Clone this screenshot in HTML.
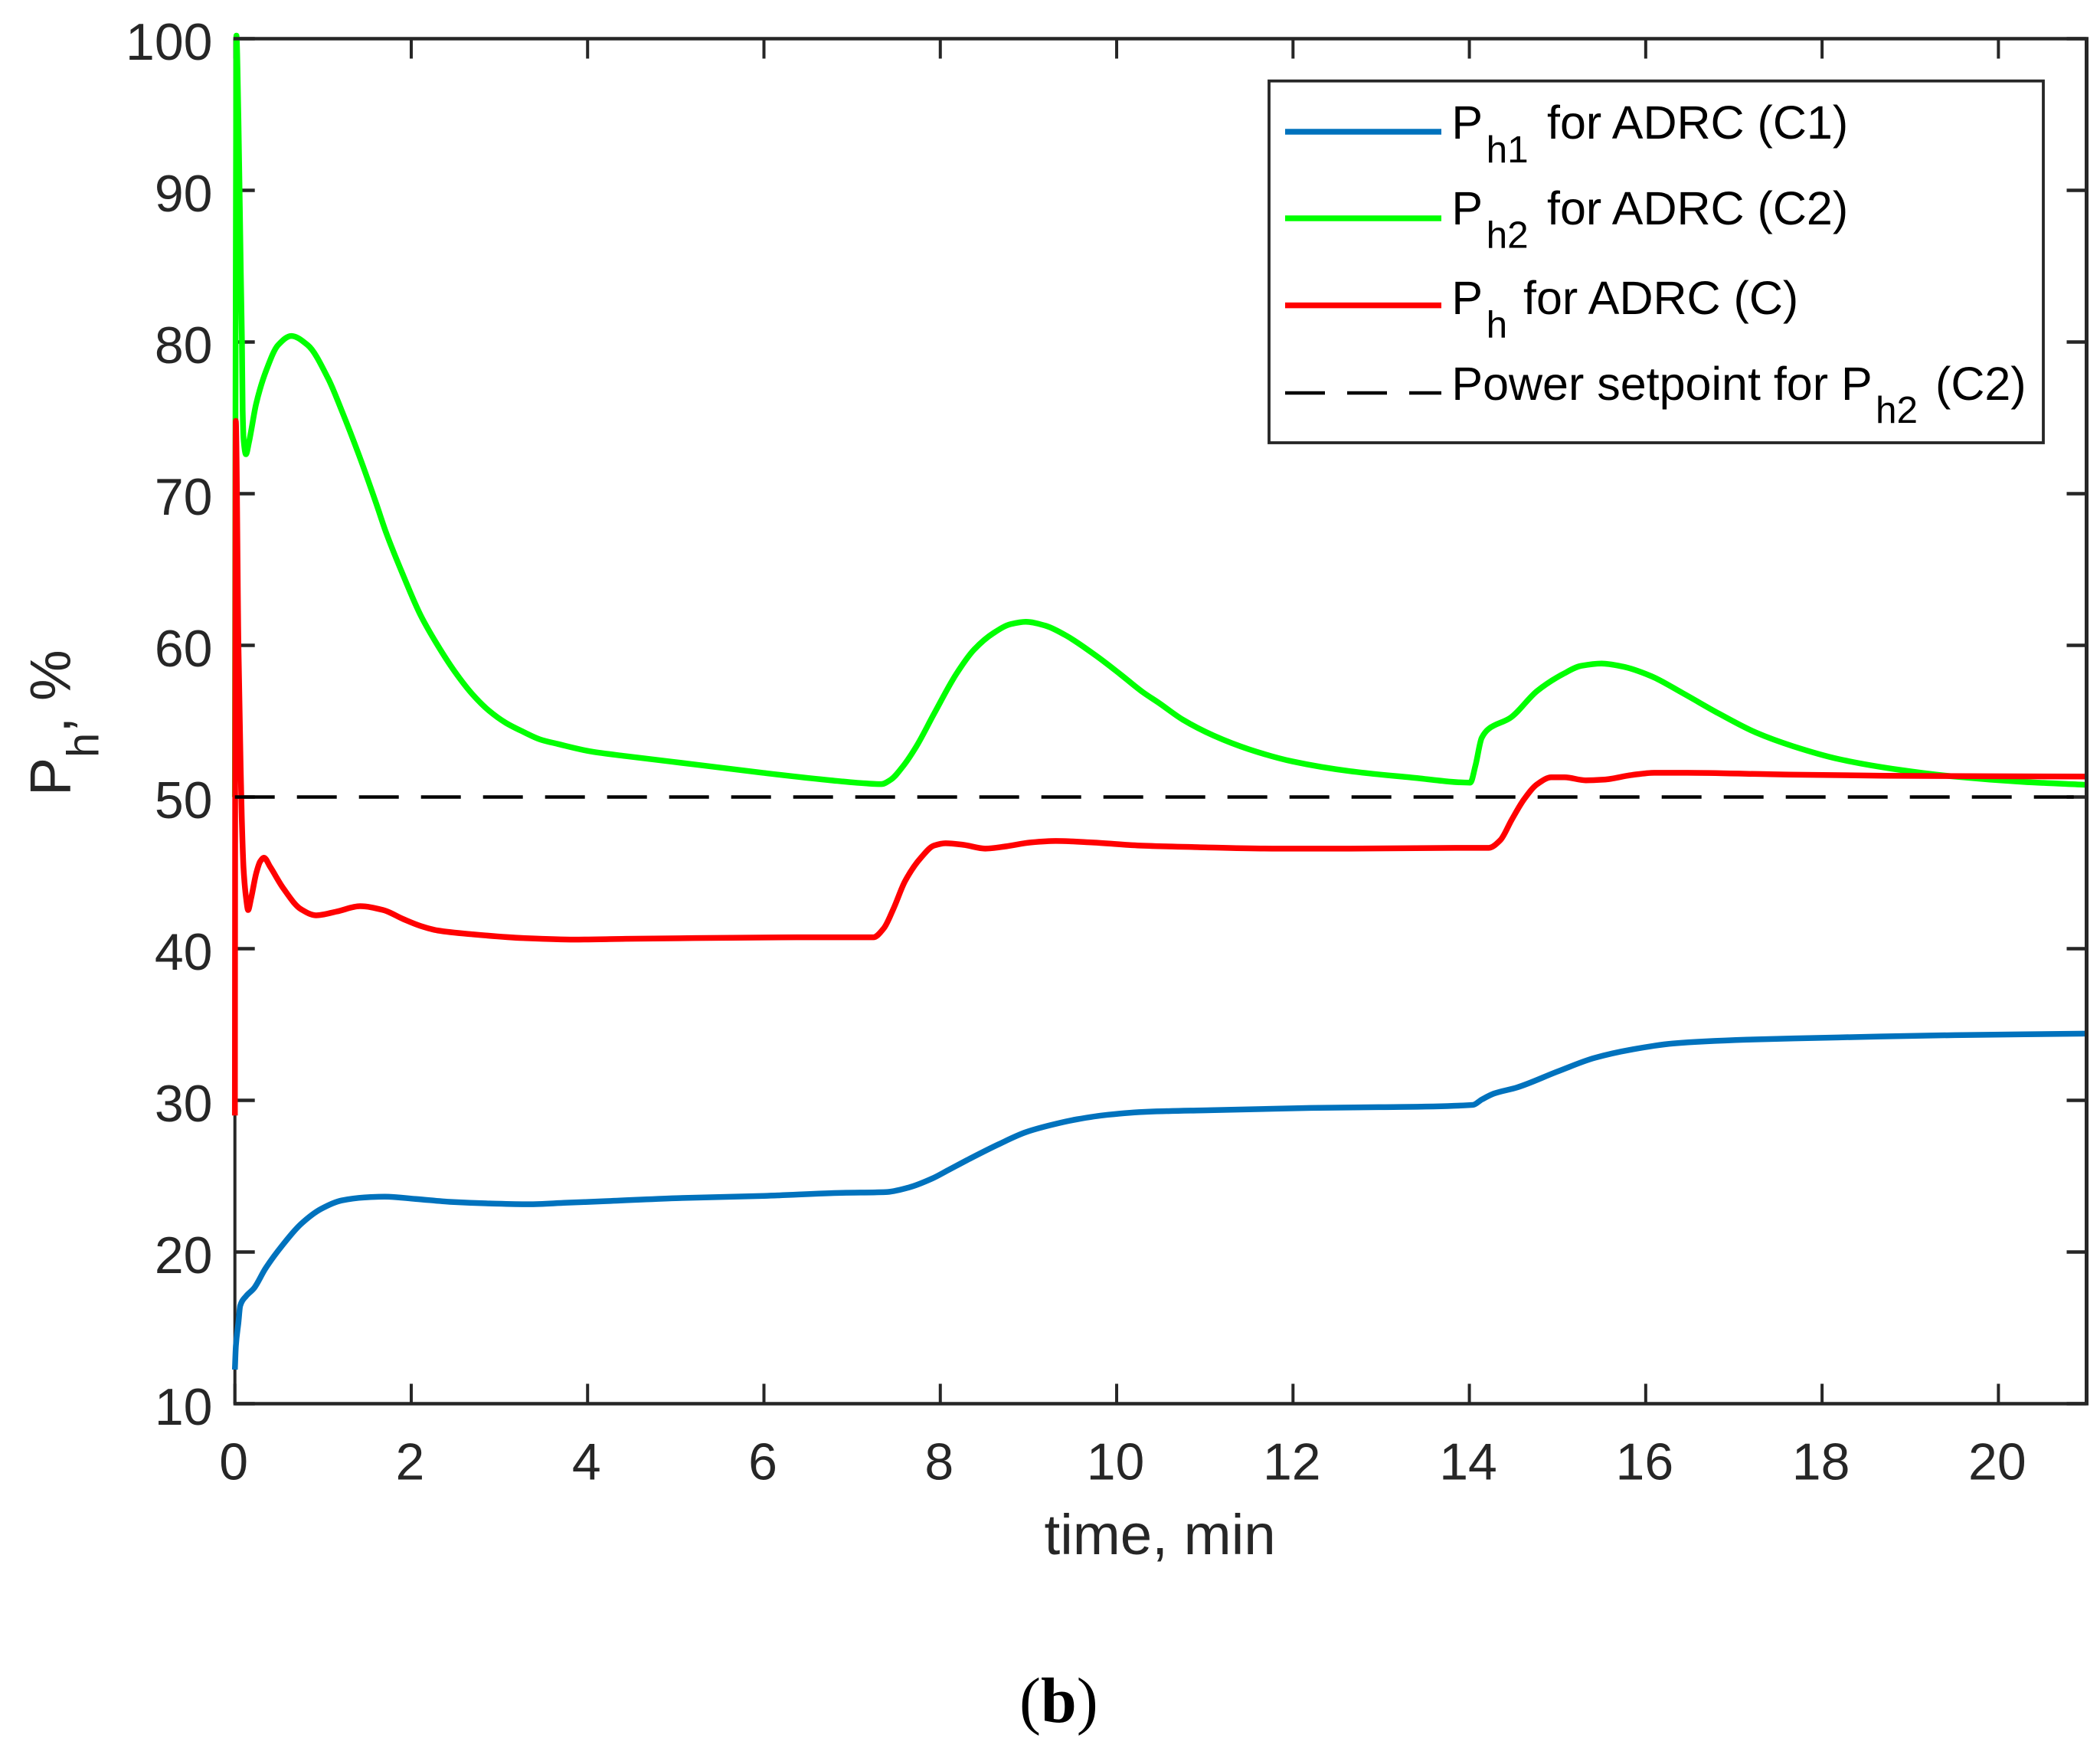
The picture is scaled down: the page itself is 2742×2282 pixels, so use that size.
<!DOCTYPE html>
<html lang="en">
<head>
<meta charset="utf-8">
<title>Ph time response chart</title>
<style>
html,body{margin:0;padding:0;background:#fff;}
svg{display:block;}
text{font-family:"Liberation Sans",Arial,sans-serif;}
</style>
</head>
<body>
<svg id="chart" xmlns="http://www.w3.org/2000/svg" width="2742" height="2282" viewBox="0 0 2742 2282">
  <rect x="0" y="0" width="2742" height="2282" fill="#ffffff"/>
  <g id="ticks"></g>
  <g id="series"></g>
  <g id="frame"></g>
  <g id="labels" fill="#262626" font-size="68"></g>

  <text x="1363.5" y="2029" font-size="74.5" fill="#262626">time, min</text>
  <text transform="translate(91.7,1039) rotate(-90)" font-size="75" fill="#262626">P<tspan font-size="58" dy="36.6">h</tspan><tspan dy="-36.6">, %</tspan></text>

  <g>
    <rect x="1657" y="105.7" width="1011" height="472.3" fill="#ffffff" stroke="#262626" stroke-width="3.8"/>
    <g fill="#000000">
      <line x1="1678" x2="1882" y1="172" y2="172" stroke="#0072BD" stroke-width="7.5"/>
      <text x="1895.4" y="181" font-size="61">P</text>
      <text x="1940.6" y="212" font-size="49.5">h1</text>
      <text x="2020" y="181" font-size="61">for ADRC (C1)</text>
    </g>
    <g fill="#000000">
      <line x1="1678" x2="1882" y1="285" y2="285" stroke="#00FF00" stroke-width="7.5"/>
      <text x="1895.4" y="293" font-size="61">P</text>
      <text x="1940.6" y="323.6" font-size="49.5">h2</text>
      <text x="2020" y="293" font-size="61">for ADRC (C2)</text>
    </g>
    <g fill="#000000">
      <line x1="1678" x2="1882" y1="398.6" y2="398.6" stroke="#FF0000" stroke-width="7.5"/>
      <text x="1895.4" y="410" font-size="61">P</text>
      <text x="1940.6" y="440.7" font-size="49.5">h</text>
      <text x="1989" y="410" font-size="61">for ADRC (C)</text>
    </g>
    <g fill="#000000">
      <line x1="1678" x2="1882" y1="513" y2="513" stroke="#000000" stroke-width="4.5" stroke-dasharray="52 29"/>
      <text x="1895.4" y="521.8" font-size="61">Power setpoint for P</text>
      <text x="2449" y="552" font-size="49.5">h2</text>
      <text x="2527" y="521.8" font-size="61">(C2)</text>
    </g>
  </g>

  <text x="1331" y="2248" font-size="84" fill="#000000" style="font-family:'Liberation Serif',serif">(<tspan font-weight="bold">b</tspan>)</text>
</svg>
<script>
const xTickValues = [0, 2, 4, 6, 8, 10, 12, 14, 16, 18, 20];
const yTickValues = [10, 20, 30, 40, 50, 60, 70, 80, 90, 100];

const timeC1 = [0, 0.011, 0.04, 0.06, 0.128, 0.215, 0.345, 0.533, 0.75, 0.98, 1.21, 1.47, 1.7, 2.05, 2.46, 2.89, 3.33, 3.76, 4.2, 5, 6, 6.89, 7.38, 7.64, 7.91, 8.09, 8.35, 8.66, 8.97, 9.24, 9.55, 9.9, 10.35, 11.06, 12.2, 12.97, 14.04, 14.14, 14.28, 14.54, 15, 15.42, 15.84, 16.31, 17.15, 18.19, 19.5, 21];
const powerC1 = [12.25, 13.8, 15.35, 16.45, 17.1, 17.6, 18.9, 20.4, 21.85, 22.85, 23.4, 23.6, 23.65, 23.5, 23.3, 23.2, 23.15, 23.25, 23.35, 23.55, 23.7, 23.9, 23.95, 24.25, 24.85, 25.4, 26.2, 27.1, 27.9, 28.35, 28.75, 29.05, 29.25, 29.35, 29.5, 29.55, 29.7, 30.05, 30.45, 30.85, 31.9, 32.8, 33.35, 33.75, 34, 34.15, 34.3, 34.4];

const timeC2 = [0, 0.005, 0.012, 0.017, 0.04, 0.067, 0.08, 0.088, 0.1, 0.125, 0.16, 0.183, 0.24, 0.36, 0.49, 0.64, 0.825, 1.057, 1.21, 1.41, 1.6, 1.717, 1.91, 2.105, 2.3, 2.49, 2.69, 2.88, 3.07, 3.27, 3.46, 3.66, 4.04, 4.43, 5.21, 5.98, 6.76, 7.15, 7.33, 7.44, 7.58, 7.73, 7.93, 8.18, 8.38, 8.6, 8.8, 8.97, 9.19, 9.41, 9.77, 10.04, 10.3, 10.48, 10.75, 11.1, 11.5, 11.99, 12.65, 13.32, 14.01, 14.07, 14.14, 14.22, 14.46, 14.77, 15.06, 15.27, 15.5, 15.74, 16.05, 16.42, 16.83, 17.25, 17.67, 18.19, 18.87, 19.5, 20.28, 21];
const powerC2 = [50, 70, 90, 100.2, 94.7, 84.6, 80, 75.5, 73.5, 72.6, 73.4, 74.1, 75.9, 78.2, 79.8, 80.4, 79.8, 77.6, 75.5, 72.5, 69.4, 67.4, 64.6, 62, 60, 58.3, 56.8, 55.7, 54.9, 54.3, 53.8, 53.5, 53, 52.7, 52.15, 51.6, 51.1, 50.9, 50.85, 51.15, 52.05, 53.35, 55.5, 58.1, 59.7, 60.8, 61.4, 61.55, 61.3, 60.7, 59.3, 58.1, 56.9, 56.2, 55.1, 54.05, 53.15, 52.35, 51.7, 51.3, 50.95, 52.1, 53.9, 54.5, 55.2, 57, 58.1, 58.65, 58.8, 58.6, 58, 56.85, 55.5, 54.25, 53.35, 52.5, 51.8, 51.35, 51, 50.8];

const timeC = [0, 0.003, 0.01, 0.04, 0.065, 0.078, 0.098, 0.128, 0.15, 0.183, 0.243, 0.287, 0.33, 0.4, 0.547, 0.75, 0.92, 1.155, 1.42, 1.68, 1.91, 2.105, 2.3, 2.69, 3.27, 3.85, 4.43, 5.21, 6.37, 7.24, 7.36, 7.47, 7.6, 7.78, 7.93, 8.06, 8.26, 8.51, 8.75, 9.02, 9.31, 9.73, 10.26, 10.88, 11.76, 12.65, 13.84, 14.22, 14.35, 14.48, 14.62, 14.77, 14.93, 15.08, 15.32, 15.53, 15.84, 16.1, 16.47, 17.41, 18.71, 21];
const powerC = [29, 50, 74.8, 60, 52, 48.65, 45.3, 43.3, 42.55, 43.3, 45, 45.75, 46, 45.4, 44, 42.6, 42.2, 42.45, 42.8, 42.55, 41.95, 41.5, 41.2, 40.95, 40.7, 40.6, 40.65, 40.7, 40.75, 40.75, 41.35, 42.65, 44.45, 46, 46.8, 46.95, 46.85, 46.6, 46.75, 47, 47.1, 47, 46.8, 46.7, 46.6, 46.6, 46.65, 46.65, 47.15, 48.5, 49.85, 50.85, 51.3, 51.3, 51.1, 51.15, 51.45, 51.6, 51.6, 51.5, 51.4, 51.35];

const setpointTime = [0, 21];
const setpointPower = [50, 50];

const SVG_NS = 'http://www.w3.org/2000/svg';
const plotLeft = 306.7, plotRight = 2724.5, plotTop = 50.5, plotBottom = 1832.5;
const xMin = 0, xMax = 21, yMin = 10, yMax = 100;
function xScale(t) { return plotLeft + (t - xMin) * (plotRight - plotLeft) / (xMax - xMin); }
function yScale(v) { return plotBottom - (v - yMin) * (plotBottom - plotTop) / (yMax - yMin); }

function makeLine(parent, x1, y1, x2, y2, width) {
  const el = document.createElementNS(SVG_NS, 'line');
  el.setAttribute('x1', x1);
  el.setAttribute('y1', y1);
  el.setAttribute('x2', x2);
  el.setAttribute('y2', y2);
  el.setAttribute('stroke', '#262626');
  el.setAttribute('stroke-width', width);
  parent.appendChild(el);
  return el;
}

const ticksGroup = document.getElementById('ticks');
const labelsGroup = document.getElementById('labels');
const frameGroup = document.getElementById('frame');
const seriesGroup = document.getElementById('series');

xTickValues.forEach(function (t) {
  const x = xScale(t);
  const bottomTick = makeLine(ticksGroup, x, plotBottom, x, plotBottom - 26, 4);
  
  
  const topTick = makeLine(ticksGroup, x, plotTop, x, plotTop + 26, 4);
  
  
  const label = document.createElementNS(SVG_NS, 'text');
  
  
  label.setAttribute('x', x - 1.5);
  label.setAttribute('y', 1931.5);
  label.setAttribute('text-anchor', 'middle');
  label.textContent = String(t);
  labelsGroup.appendChild(label);
});

yTickValues.forEach(function (v) {
  const y = yScale(v);
  const leftTick = makeLine(ticksGroup, plotLeft, y, plotLeft + 26, y, 4.5);
  
  
  const rightTick = makeLine(ticksGroup, plotRight, y, plotRight - 26, y, 4.5);
  
  
  const label = document.createElementNS(SVG_NS, 'text');
  
  
  label.setAttribute('x', 277.5);
  label.setAttribute('y', y + 27.5);
  label.setAttribute('text-anchor', 'end');
  label.textContent = String(v);
  labelsGroup.appendChild(label);
});

const frameTop = makeLine(frameGroup, plotLeft - 2, plotTop, plotRight + 2.5, plotTop, 4.5);


const frameBottom = makeLine(frameGroup, plotLeft - 2, plotBottom, plotRight + 2.5, plotBottom, 4.5);


const frameRight = makeLine(frameGroup, plotRight, plotTop, plotRight, plotBottom, 5);


const frameLeft = makeLine(ticksGroup, plotLeft, plotTop, plotLeft, plotBottom, 4);



/* Monotone cubic path through the data points, so curves stay smooth without overshoot. */
function smoothPath(px, py) {
  const n = px.length;
  const slope = [];
  for (let i = 0; i < n - 1; i++) {
    slope.push((py[i + 1] - py[i]) / Math.max(px[i + 1] - px[i], 0.001));
  }
  const tangent = [slope[0]];
  for (let i = 1; i < n - 1; i++) {
    if (slope[i - 1] * slope[i] <= 0) {
      tangent.push(0);
    } else {
      const h0 = px[i] - px[i - 1], h1 = px[i + 1] - px[i];
      const w0 = 2 * h1 + h0, w1 = h1 + 2 * h0;
      tangent.push((w0 + w1) / (w0 / slope[i - 1] + w1 / slope[i]));
    }
  }
  tangent.push(slope[n - 2]);
  let d = 'M' + px[0].toFixed(1) + ' ' + py[0].toFixed(1);
  for (let i = 0; i < n - 1; i++) {
    const h = (px[i + 1] - px[i]) / 3;
    d += 'C' + (px[i] + h).toFixed(2) + ' ' + (py[i] + tangent[i] * h).toFixed(2) +
         ' ' + (px[i + 1] - h).toFixed(2) + ' ' + (py[i + 1] - tangent[i + 1] * h).toFixed(2) +
         ' ' + px[i + 1].toFixed(2) + ' ' + py[i + 1].toFixed(2);
  }
  return d;
}

function makeSeries(times, values, color, width, dash) {
  const el = document.createElementNS(SVG_NS, 'path');
  el.setAttribute('d', smoothPath(times.map(xScale), values.map(yScale)));
  el.setAttribute('fill', 'none');
  el.setAttribute('stroke', color);
  el.setAttribute('stroke-width', width);
  el.setAttribute('stroke-linejoin', 'round');
  if (dash) { el.setAttribute('stroke-dasharray', dash); }
  seriesGroup.appendChild(el);
  return el;
}

const lineC1 = makeSeries(timeC1, powerC1, '#0072BD', 7.5);


const lineC2 = makeSeries(timeC2, powerC2, '#00FF00', 7.5);


const lineC = makeSeries(timeC, powerC, '#FF0000', 7.5);


const lineSetpoint = makeSeries(setpointTime, setpointPower, '#000000', 4.5, '52 29');


</script>
</body>
</html>
